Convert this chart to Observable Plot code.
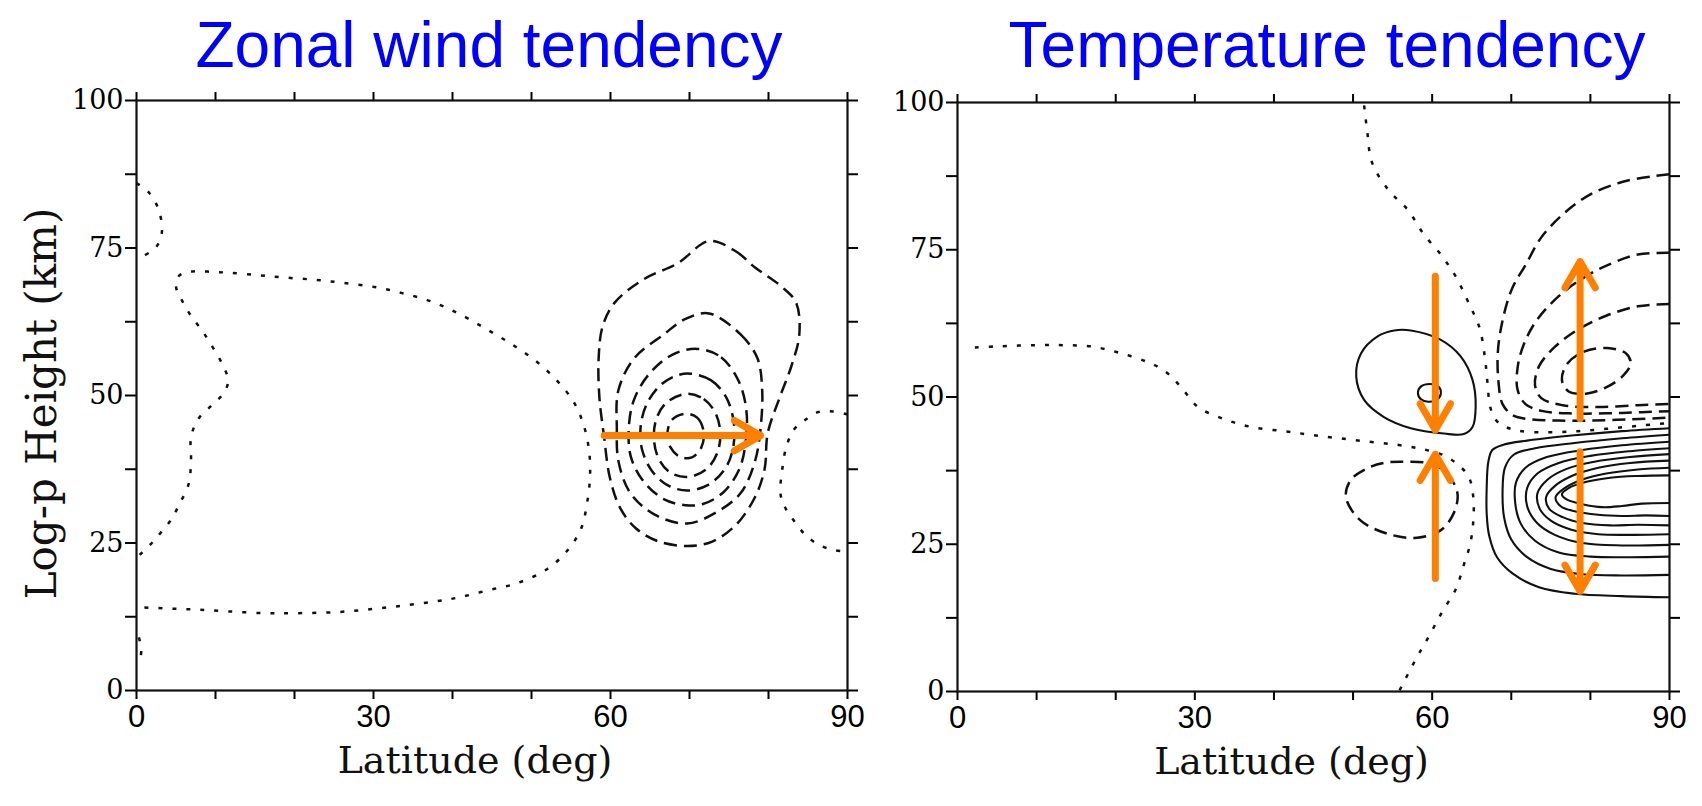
<!DOCTYPE html>
<html><head><meta charset="utf-8">
<script src="https://cdn.jsdelivr.net/npm/d3@7"></script>
<script src="https://cdn.jsdelivr.net/npm/@observablehq/plot@0.6"></script>
<style>
html,body{margin:0;padding:0;background:#fff;}
#wrap{position:relative;width:1702px;height:806px;overflow:hidden;background:#fff;}
.title{position:absolute;z-index:2;font-family:"Liberation Sans",Arial,sans-serif;font-size:64px;color:#0000ff;white-space:nowrap;transform:translateX(-50%);line-height:1;}
.panel{position:absolute;top:0;}
</style></head>
<body><div id="wrap">
<div class="title" style="left:489px;top:13px">Zonal wind tendency</div>
<div class="title" style="left:1327px;top:13px">Temperature tendency</div>
<div class="panel" id="p1" style="left:0;width:870px"></div>
<div class="panel" id="p2" style="left:870px;width:832px"></div>
</div>
<script>
// ---- axes ----
const latTicks = [0,10,20,30,40,50,60,70,80,90];
const latLabels = [0,30,60,90];
const hTicks = [0,12.5,25,37.5,50,62.5,75,87.5,100];
const hLabels = [0,25,50,75,100];
const xLabel = "Latitude (deg)";
const yLabel = "Log-p Height (km)";

// ---- Zonal wind tendency: contours [lat, height] ----
const uZeroTop = [[0,86],[1.5,84.5],[2.8,81.5],[3.2,77.5],[2.4,75],[0.6,73.5]];
const uZeroMain = [[0.4,23],[1.8,24.8],[3.1,26.8],[4.4,29],[5.4,31.5],[6.6,35],[6.9,39],[6.9,42.9],[7.8,46],[9.5,48.3],[11.1,50.5],[11.6,52.6],[10.9,55.2],[9.6,58.3],[8.3,61],[6.9,63.5],[5.8,66],[5,68.5],[5.4,70.3],[7,71],[9,71],[11.7,70.8],[15.4,70.4],[18.7,70],[22.7,69.6],[26.1,69.1],[30.1,68.4],[33.5,67.4],[37.2,66],[40.9,63.8],[44.5,61.1],[47.6,58.6],[50.4,56],[53.1,52.7],[55.3,49],[56.6,45],[57.3,40.5],[57.4,36],[57,31.5],[56.3,27.5],[54.6,23.8],[52,20.6],[48.2,18.2],[44.5,17],[40.9,15.8],[37.8,15.1],[33.8,14.4],[29.8,13.8],[25.5,13.3],[20,13.1],[16.3,13.1],[11.7,13.4],[7.7,13.7],[4,13.9],[0,14.1]];
const uZeroBottom = [[0.3,9],[0.6,7],[0.4,4.5]];
const uZeroRight = [[90,46.8],[88.2,47.3],[86.3,47.2],[84.5,45.7],[83.2,44.2],[82.2,41],[81.7,37],[81.5,33.5],[82,31.3],[83.2,28.8],[84.8,26.2],[86.5,24.6],[88.3,23.8],[90,23.5]];
const uNeg1 = [[72.5,76.2],[75.9,74.4],[78.3,71.7],[81.7,68.4],[83.5,65.7],[83.9,60.3],[82.9,55],[81.4,49.6],[79.9,43.6],[79.5,37.5],[78.3,32.8],[75.9,28.1],[72.8,25.2],[69.7,24.5],[66,25.3],[63.2,27.5],[61.2,31],[59.9,36.2],[59.2,42.9],[58.6,49.6],[58.5,56.3],[59,61.7],[60.5,65.7],[64.2,69.7],[68.5,72.4]];
const uNeg2 = [[72.5,63.9],[76.5,60.3],[78.6,56.3],[79.2,50.9],[79,44.5],[78.3,38.9],[76.5,33.5],[73.4,30.2],[69.7,28.3],[65.6,29.8],[62.5,33.5],[61,38.9],[60.8,44.5],[61,50.9],[63,56.3],[66.7,60.3],[69.5,63]];
const uNeg3 = [[71,57.9],[74,56.5],[76.2,52.5],[77.2,47.5],[77.1,42],[76.3,37.5],[74.3,33.6],[71.7,31.6],[69.5,31.4],[66.8,32.4],[64.2,35.4],[62.6,39.5],[62.3,44],[62.9,49],[64.8,53.5],[67.8,56.9]];
const uNeg4 = [[70.1,53.7],[72.7,52.6],[74.6,49.8],[75.6,45.5],[75.5,41],[74.5,37.6],[72.3,34.8],[69.7,33.9],[67.2,34.8],[65.2,37.3],[64,40.8],[63.8,44.5],[64.5,48.3],[66.2,51.6],[68.2,53.3]];
const uNeg5 = [[69.7,50.3],[71.8,49.4],[73.3,47],[73.9,43.6],[73.5,40.2],[72.2,37.6],[69.9,36.2],[67.6,36.9],[66.1,39.3],[65.5,42.6],[65.8,46],[67.1,48.8]];
const uNeg6 = [[69.5,46.9],[71,46.2],[71.8,43.8],[71.5,41.2],[70.3,39.5],[68.8,39.6],[67.6,41.2],[67.2,43.6],[67.8,45.9]];
const uArrows = [{x1:59.2, y1:43.2, x2:79.0, y2:43.2}];

// ---- Temperature tendency: contours [lat, height] ----
const tZeroLeft = [[2.2,58.4],[5.2,58.6],[10,58.8],[13.4,58.8],[16.8,58.6],[20.2,57.6],[23.9,56],[26.3,54.3],[28.3,51.6],[30.4,48.3],[33.8,46.2],[37.2,44.9],[41.2,44.2],[44.6,43.6],[48.2,43],[52,42.4],[55.5,41.9],[58.6,41.2],[61.3,40.2],[63,38.8],[64.6,36.5],[65.2,33],[65.2,29],[64.8,25],[64,21.5],[63,17.4],[61.3,13.6],[59.6,9.4],[57.9,5.4],[55.8,0]];
const tZeroTop = [[51.4,99.5],[51.8,95],[52.4,89.8],[54.5,85.1],[56.9,81.8],[58.9,77.7],[61.2,74],[63,70.4],[64.7,65.7],[66,61.7],[66.7,56.3],[67,52.3],[67.4,48],[68.4,45.6],[70.8,44.3],[74.6,44],[78.4,44.2],[82,44.6],[86,45.1],[90,45.6]];
const tPosLoop = [[57.3,61.3],[61.1,59.7],[63.6,56.9],[65.1,52.9],[65.5,48.4],[65.1,44.9],[64,43.7],[61.5,43.8],[57.3,44.7],[53.9,46.6],[51.4,49.5],[50.4,53.5],[51,57.4],[53.1,60.3],[55.2,61.3]];
const tPosSmall = [[58.2,50.7],[58.6,51.8],[59.7,52.2],[60.8,51.8],[61.1,50.6],[60.6,49.5],[59.5,49.2],[58.6,49.6]];
const tNegLoop = [[56,39],[59.8,38.7],[61.9,37],[63.2,33.6],[62.7,30.2],[61.1,27.4],[58.1,26.1],[54.3,26.8],[50.9,29.1],[49.1,33],[49.7,35.9],[51.8,37.9],[53.9,38.8]];
const tPos1 = [[90,44.7],[84,44.2],[78,43.5],[72,42.6],[69,41.9],[67.6,41],[67.1,39],[66.9,35],[66.9,30],[67.2,26.5],[68.2,22.8],[70.2,20],[73.5,17.7],[78,16.6],[84,16.2],[90,16]];
const tPos2 = [[90,43.6],[84,43],[78,42.2],[73,41.3],[70.3,40.2],[69.2,38],[68.9,34],[69.1,29.5],[70,25.8],[72,22.8],[75,20.8],[79,19.9],[84,19.7],[90,19.8]];
const tPos3 = [[90,42.4],[84,41.8],[79,41],[74.5,39.8],[71.8,38],[70.6,35.5],[70.5,32],[71.2,28.5],[73,25.6],[76,23.6],[80,22.9],[85,22.8],[90,22.9]];
const tPos4 = [[90,41.3],[85,40.8],[80,40],[76,38.8],[73.3,37],[72,34.5],[72,31.5],[73.2,28.7],[75.5,26.6],[79,25.2],[84,24.8],[90,24.9]];
const tPos5 = [[90,40.3],[85,39.8],[80.5,39],[77,37.8],[74.6,36],[73.3,33.6],[73.6,31],[75,29],[77.5,27.5],[81,26.7],[85.5,26.6],[90,26.7]];
const tPos6 = [[90,39.2],[85,38.8],[81,38],[78,36.8],[75.6,35],[74.4,33],[74.8,31],[76.5,29.6],[79,28.6],[82.5,28.2],[86,28.3],[90,28.2]];
const tPos7 = [[90,38],[86,37.7],[82,37],[79,36],[76.7,34.5],[75.6,33],[76.2,31.5],[78,30.6],[81,30],[84,29.8],[87,29.9],[90,29.8]];
const tPos8 = [[90,36.7],[86,36.6],[82.5,36.3],[79.5,35.6],[77.2,34.5],[76.4,33.5],[77,32.6],[79,31.8],[81.5,31.3],[84,31.5],[86.5,31.9],[90,32]];
const tNeg1 = [[90,87.8],[88,87.5],[84,86.5],[80,84.4],[76.6,81.1],[73.8,77.1],[71.8,72.4],[70.1,68.4],[68.9,63],[68.3,57.6],[68.4,52.3],[68.9,48.8],[70.2,46.9],[72.5,46.2],[76,46],[80,46],[85,46.2],[90,46.5]];
const tNeg2 = [[90,74.5],[86,74.2],[82.7,72.7],[79.3,70.4],[75.9,67],[73.2,63],[71.6,59],[70.8,55],[70.8,51.2],[71.8,48.8],[74,47.6],[78,47.2],[84,47.3],[90,47.6]];
const tNeg3 = [[90,65.8],[86,65.4],[82,63.8],[78.5,61.5],[75.5,58.5],[73.5,55.2],[73,52],[73.8,49.8],[76.5,48.6],[81,48.3],[86,48.6],[90,48.8]];
const tNeg4 = [[76.4,52.9],[77.1,55.7],[79.2,57.7],[82.1,58.3],[84.5,57.4],[85.1,55.7],[84.2,53.7],[82.1,51.7],[79.6,50.6],[77.3,50.9]];
const tArrows = [
  {x1:60.4, y1:70.5, x2:60.4, y2:44.4},
  {x1:60.4, y1:19.2, x2:60.4, y2:40.3},
  {x1:78.7, y1:46.3, x2:78.7, y2:73.0},
  {x1:78.7, y1:40.7, x2:78.7, y2:17.0}
];

// ---- helpers ----
const rows = (lines) => lines.flatMap(([id, pts]) => pts.map(([lat, h]) => ({id, lat, h})));
const contour = (lines, dash, closed, w) => Plot.line(rows(lines), {
  x: "lat", y: "h", z: "id", stroke: "#111", strokeWidth: w,
  strokeDasharray: dash, curve: closed ? "catmull-rom-closed" : "catmull-rom",
  strokeLinecap: "butt", strokeLinejoin: "round"
});
const orange = "#ff7f00";
const serif = "'DejaVu Serif', 'Liberation Serif', serif";
const narrow = "'Liberation Sans Narrow', 'Liberation Sans', Arial, sans-serif";

function axes(withYLabel, labelDx) {
  const m = [
    Plot.axisX({anchor: "bottom", ticks: latTicks, tickFormat: d => latLabels.includes(d) ? String(d) : "",
      tickSize: 9, tickPadding: 5, strokeWidth: 2, fontSize: 31, fontFamily: narrow, label: null}),
    Plot.axisX({anchor: "top", ticks: latTicks, tickFormat: () => "", tickSize: 9, strokeWidth: 2, label: null}),
    Plot.axisY({anchor: "left", ticks: hTicks, tickFormat: d => hLabels.includes(d) ? String(d) : "",
      tickSize: 11, tickPadding: 2, strokeWidth: 2, fontSize: 27, fontFamily: serif, label: null}),
    Plot.axisY({anchor: "right", ticks: hTicks, tickFormat: () => "", tickSize: 10, strokeWidth: 2, label: null}),
    Plot.frame({stroke: "#111", strokeWidth: 2.2}),
    Plot.text([xLabel], {text: d => d, frameAnchor: "bottom", dx: labelDx, dy: 82, fontSize: 38, fontFamily: serif, fill: "#111",
      textAnchor: "middle", style: "letter-spacing:0.5px"})
  ];
  if (withYLabel) m.push(Plot.text([yLabel], {text: d => d, frameAnchor: "left", textAnchor: "middle", rotate: -90,
    dx: -94, dy: 8, fontSize: 42, fontFamily: serif, fill: "#111"}));
  return m;
}

const dash = "13,7";
const dot = "4,10";

const p1 = Plot.plot({
  width: 870, height: 806,
  marginLeft: 136, marginRight: 23, marginTop: 100, marginBottom: 116,
  style: {background: "white", overflow: "visible"},
  x: {domain: [0, 90]}, y: {domain: [0, 100]},
  marks: [
    ...axes(true, -17),
    contour([["a", uZeroTop], ["b", uZeroMain], ["c", uZeroBottom], ["d", uZeroRight]], dot, false, 2.5),
    contour([["1", uNeg1], ["2", uNeg2], ["3", uNeg3], ["4", uNeg4], ["5", uNeg5], ["6", uNeg6]], dash, true, 2.5),
    Plot.arrow(uArrows, {x1: "x1", y1: "y1", x2: "x2", y2: "y2", stroke: orange, strokeWidth: 7, headLength: 6.5, headAngle: 60})
  ]
});
document.getElementById("p1").appendChild(p1);

const p2 = Plot.plot({
  width: 832, height: 806,
  marginLeft: 87, marginRight: 33, marginTop: 102, marginBottom: 115,
  style: {background: "white", overflow: "visible"},
  x: {domain: [0, 90]}, y: {domain: [0, 100]},
  marks: [
    ...axes(false, -22),
    contour([["a", tZeroLeft], ["b", tZeroTop]], dot, false, 2.5),
    contour([["1", tPos1], ["2", tPos2], ["3", tPos3], ["4", tPos4], ["5", tPos5], ["6", tPos6], ["7", tPos7], ["8", tPos8]], null, false, 2.1),
    contour([["l", tPosLoop], ["s", tPosSmall]], null, true, 2.1),
    contour([["n", tNegLoop], ["e", tNeg4]], dash, true, 2.5),
    contour([["1", tNeg1], ["2", tNeg2], ["3", tNeg3]], dash, false, 2.5),
    Plot.arrow(tArrows, {x1: "x1", y1: "y1", x2: "x2", y2: "y2", stroke: orange, strokeWidth: 7, headLength: 6.5, headAngle: 60})
  ]
});
document.getElementById("p2").appendChild(p2);
</script>
</body></html>
